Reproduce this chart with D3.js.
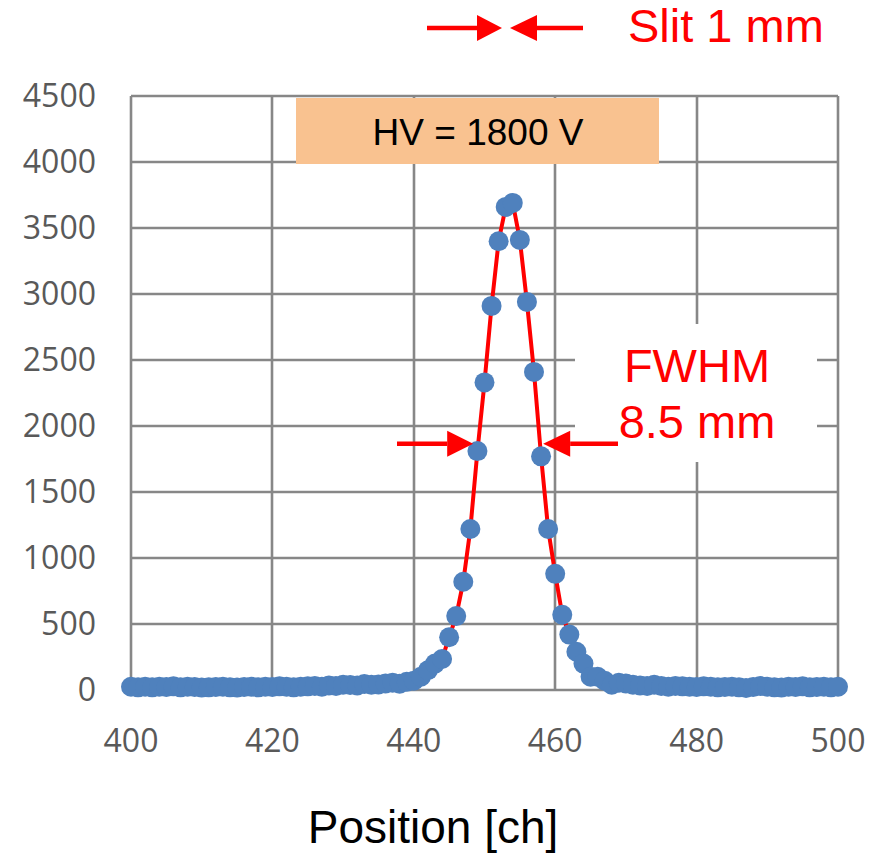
<!DOCTYPE html>
<html>
<head>
<meta charset="utf-8">
<script src="https://cdn.jsdelivr.net/npm/d3@7"></script>
<style>
  body { margin: 0; background: #fff; }
  svg { display: block; }
</style>
</head>
<body>
<div id="chart"></div>
<script>
// channel positions (one point per channel) and counts
var channels = d3.range(400, 501);
var counts = [
  25, 20, 25, 20, 25, 22, 28, 20, 25, 22,
  18, 20, 22, 25, 20, 18, 22, 25, 20, 25,
  22, 28, 25, 20, 25, 28, 30, 25, 35, 30,
  40, 38, 35, 45, 40, 42, 50, 55, 48, 62,
  70, 100, 150, 200, 235, 400, 560, 820, 1220, 1810,
  2330, 2910, 3400, 3660, 3690, 3410, 2940, 2410, 1770, 1220,
  880, 570, 420, 290, 200, 100, 100, 70, 40, 55,
  50, 40, 35, 30, 40, 30, 25, 30, 28, 25,
  22, 28, 25, 20, 22, 25, 20, 15, 22, 30,
  25, 20, 18, 25, 22, 28, 20, 22, 25, 20,
  25
];
var xTicks = [400, 420, 440, 460, 480, 500];
var yTicks = [0, 500, 1000, 1500, 2000, 2500, 3000, 3500, 4000, 4500];

var W = 883, H = 858;

var svg = d3.select("#chart")
    .append("svg")
    .attr("width", W)
    .attr("height", H);

var xScale = d3.scaleLinear().domain([400, 500]).range([131, 838]);
var yScale = d3.scaleLinear().domain([0, 4500]).range([690, 96]);

var data = channels.map(function(c, i) { return { ch: c, n: counts[i] }; });

var gridColor = "#878787";
var tickFont = "'Open Sans', 'DejaVu Sans', sans-serif";

// gridlines
svg.append("g").selectAll("line")
    .data(yTicks)
    .enter().append("line")
    .attr("x1", xScale(400)).attr("x2", xScale(500))
    .attr("y1", function(d) { return Math.round(yScale(d)); })
    .attr("y2", function(d) { return Math.round(yScale(d)); })
    .attr("stroke", gridColor)
    .attr("stroke-width", 2.6);

svg.append("g").selectAll("line")
    .data(xTicks)
    .enter().append("line")
    .attr("x1", function(d) { return Math.round(xScale(d)); })
    .attr("x2", function(d) { return Math.round(xScale(d)); })
    .attr("y1", yScale(4500)).attr("y2", yScale(0))
    .attr("stroke", gridColor)
    .attr("stroke-width", 2.6);

// y tick labels
svg.append("g").selectAll("text")
    .data(yTicks)
    .enter().append("text")
    .attr("x", 96)
    .attr("y", function(d) { return yScale(d) + 11; })
    .attr("text-anchor", "end")
    .attr("font-family", tickFont)
    .attr("font-size", 32)
    .attr("fill", "#595959")
    .text(function(d) { return d; });

// x tick labels
svg.append("g").selectAll("text")
    .data(xTicks)
    .enter().append("text")
    .attr("x", function(d) { return xScale(d); })
    .attr("y", 752)
    .attr("text-anchor", "middle")
    .attr("font-family", tickFont)
    .attr("font-size", 32)
    .attr("fill", "#595959")
    .text(function(d) { return d; });

// axis title
svg.append("text")
    .attr("x", 433)
    .attr("y", 843)
    .attr("text-anchor", "middle")
    .attr("font-family", "'Liberation Sans', Arial, sans-serif")
    .attr("font-size", 46)
    .attr("fill", "#000")
    .text("Position [ch]");

// HV label box
svg.append("rect")
    .attr("x", 296).attr("y", 98)
    .attr("width", 363).attr("height", 66)
    .attr("fill", "#f9c290");
svg.append("text")
    .attr("x", 478).attr("y", 145)
    .attr("text-anchor", "middle")
    .attr("font-family", "'Liberation Sans', Arial, sans-serif")
    .attr("font-size", 37)
    .attr("fill", "#000")
    .text("HV = 1800 V");

// FWHM text box (white background hides grid)
svg.append("rect")
    .attr("x", 575).attr("y", 324)
    .attr("width", 242).attr("height", 138)
    .attr("fill", "#fff");

// data line
var line = d3.line()
    .x(function(d) { return xScale(d.ch); })
    .y(function(d) { return yScale(d.n); });

svg.append("path")
    .datum(data)
    .attr("d", line)
    .attr("fill", "none")
    .attr("stroke", "#ff0000")
    .attr("stroke-width", 4)
    .attr("stroke-linejoin", "round");

// markers
svg.append("g").selectAll("circle")
    .data(data)
    .enter().append("circle")
    .attr("cx", function(d) { return xScale(d.ch); })
    .attr("cy", function(d) { return yScale(d.n); })
    .attr("r", 10)
    .attr("fill", "#4f81bd");

// arrows
function arrow(x0, x1, y, headLen, headHalf) {
    // x0 = tail, x1 = tip
    var dir = x1 > x0 ? 1 : -1;
    var base = x1 - dir * headLen;
    svg.append("line")
        .attr("x1", x0).attr("x2", base)
        .attr("y1", y).attr("y2", y)
        .attr("stroke", "#ff0000")
        .attr("stroke-width", 4.5);
    svg.append("path")
        .attr("d", "M" + x1 + "," + y + "L" + base + "," + (y - headHalf) + "L" + base + "," + (y + headHalf) + "Z")
        .attr("fill", "#ff0000");
}

// FWHM arrows placed at half maximum
var halfY = yScale(1865);
arrow(397, xScale(448.4), halfY, 26, 13);
arrow(618, xScale(458.3), halfY, 27, 13);

// slit arrows
arrow(427, 502, 28, 25, 13);
arrow(583, 510, 28, 27, 13);

var redFont = "'Liberation Sans', Arial, sans-serif";
svg.append("text")
    .attr("x", 628).attr("y", 42)
    .attr("font-family", redFont)
    .attr("font-size", 47)
    .attr("fill", "#ff0000")
    .text("Slit 1 mm");

svg.append("text")
    .attr("x", 697).attr("y", 382)
    .attr("text-anchor", "middle")
    .attr("font-family", redFont)
    .attr("font-size", 47)
    .attr("fill", "#ff0000")
    .text("FWHM");

svg.append("text")
    .attr("x", 697).attr("y", 438)
    .attr("text-anchor", "middle")
    .attr("font-family", redFont)
    .attr("font-size", 47)
    .attr("fill", "#ff0000")
    .text("8.5 mm");
</script>
</body>
</html>
